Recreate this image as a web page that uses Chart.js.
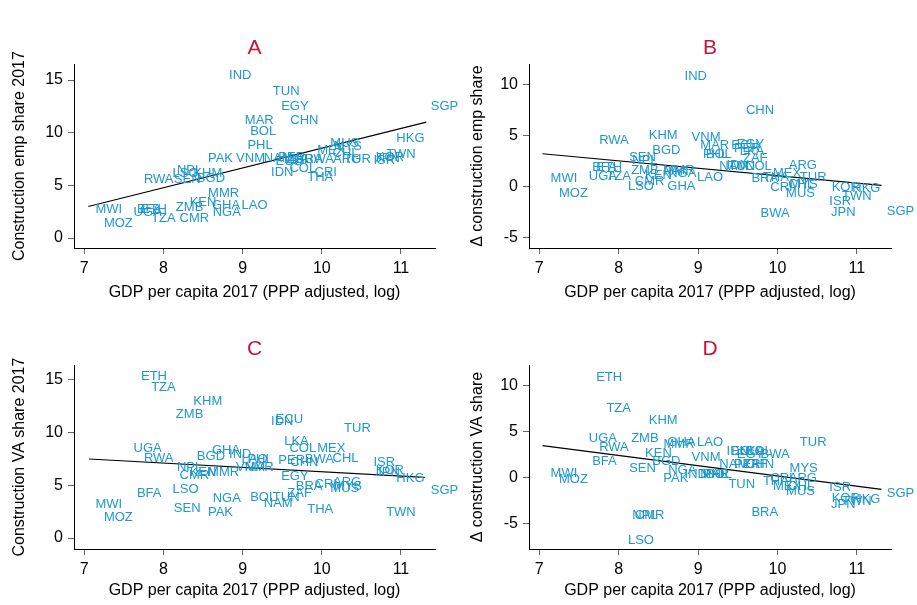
<!DOCTYPE html>
<html>
<head>
<meta charset="utf-8">
<script src="https://cdn.jsdelivr.net/npm/chart.js@4.4.1/dist/chart.umd.min.js"></script>
<style>
    html, body { margin: 0; padding: 0; background: #fff; }
    #wrap { position: relative; width: 917px; height: 605px; overflow: hidden; }
    canvas { position: absolute; }
</style>
</head>
<body>
<div id="wrap">
    <canvas id="chartA" width="458" height="302" style="left:0;top:0"></canvas>
    <canvas id="chartB" width="459" height="302" style="left:458px;top:0"></canvas>
    <canvas id="chartC" width="458" height="305" style="left:0;top:300px"></canvas>
    <canvas id="chartD" width="459" height="305" style="left:458px;top:300px"></canvas>
</div>
<script>
// paesi e PIL pro capite (log, PPP 2017)
const countries = ['MWI','MOZ','BFA','ETH','UGA','RWA','TZA','SEN','NPL','LSO','ZMB','CMR','KEN','KHM','BGD','PAK','MMR',
    'NGA','GHA','IND','LAO','VNM','MAR','PHL','BOL','NAM','IDN','TUN','ECU','PER','EGY','LKA','ZAF','COL','CHN','BRA',
    'BWA','THA','CRI','MEX','ARG','CHL','MYS','MUS','TUR','ISR','JPN','KOR','TWN','HKG','SGP'];
const gdpLog = [7.31,7.43,7.82,7.88,7.80,7.94,8.00,8.30,8.33,8.28,8.33,8.39,8.50,8.56,8.60,8.72,8.76,
    8.80,8.79,8.97,9.15,9.10,9.21,9.22,9.26,9.45,9.50,9.55,9.59,9.62,9.66,9.68,9.72,9.76,9.78,9.84,
    9.97,9.98,10.05,10.12,10.32,10.30,10.33,10.29,10.45,10.79,10.83,10.86,11.00,11.12,11.55];

// A: quota occupazione costruzioni 2017
const empShare = [2.7,1.4,2.7,2.7,2.4,5.6,1.9,5.6,6.4,6.1,2.9,1.9,3.4,6.1,5.7,7.6,4.2,
    2.4,3.1,15.4,3.1,7.6,11.2,8.8,10.1,7.6,6.2,13.9,7.3,7.7,12.5,7.5,7.5,6.6,11.2,7.5,
    7.5,5.8,6.2,8.3,7.5,8.0,8.7,9.0,7.5,7.4,7.6,7.7,7.9,9.5,12.5];
// B: variazione quota occupazione
const empChange = [0.8,-0.7,1.9,1.9,1.0,4.5,1.0,2.8,2.5,0.0,1.6,0.5,1.1,5.0,3.5,1.5,1.6,
    1.3,0.0,10.8,0.9,4.8,4.0,3.1,3.1,2.0,2.1,2.0,4.0,3.7,4.1,3.4,2.7,2.0,7.5,0.8,
    -2.7,0.9,-0.1,1.3,2.1,0.2,0.2,-0.7,0.9,-1.5,-2.6,-0.1,-1.0,-0.2,-2.5];
// C: quota valore aggiunto costruzioni 2017
const vaShare = [3.2,2.0,4.2,15.3,8.5,7.6,14.3,2.8,6.7,4.6,11.7,5.9,6.2,13.0,7.7,2.4,6.2,
    3.8,8.3,7.9,7.5,6.7,6.7,7.5,3.9,3.3,11.1,3.9,11.3,7.4,5.8,9.2,4.2,8.5,7.2,4.9,
    7.5,2.7,5.1,8.5,5.3,7.6,4.9,4.7,10.4,7.2,6.2,6.4,2.4,5.7,4.5];
// D: variazione quota valore aggiunto
const vaChange = [0.4,-0.2,1.7,10.9,4.2,3.3,7.5,1.0,-4.1,-6.8,4.2,-4.1,2.6,6.2,1.7,-0.1,3.6,
    0.8,3.8,0.3,3.8,2.2,0.3,0.3,0.3,1.4,2.8,-0.8,2.8,1.4,2.5,2.8,1.4,2.8,1.4,-3.8,
    2.5,-0.4,-0.1,-1.0,-0.1,-1.0,1.0,-1.5,3.8,-1.1,-2.9,-2.3,-2.6,-2.4,-1.7];

// retta di regressione: estremi [x0, y0, x1, y1]
const fitA = [7.05, 3.0, 11.32, 11.0];
const fitB = [7.04, 3.2, 11.31, 0.1];
const fitC = [7.06, 7.5, 11.30, 5.75];
const fitD = [7.04, 3.46, 11.31, -1.3];

const xTicks = [7, 8, 9, 10, 11];
const xTitle = 'GDP per capita 2017 (PPP adjusted, log)';

const LABEL_COLOR = 'rgb(30, 152, 205)';
const FONT = '"Liberation Sans", Arial, sans-serif';

// plugin per disegnare le etichette dei paesi al posto dei punti
const countryLabels = {
    id: 'countryLabels',
    afterDatasetsDraw(chart) {
        const ctx = chart.ctx;
        const meta = chart.getDatasetMeta(0);
        ctx.save();
        ctx.font = '13px ' + FONT;
        ctx.fillStyle = LABEL_COLOR;
        ctx.textAlign = 'center';
        ctx.textBaseline = 'middle';
        meta.data.forEach((pt, i) => {
            ctx.fillText(countries[i], pt.x, pt.y);
        });
        ctx.restore();
    }
};

function makePanel(canvasId, title, yTitle, values, fit, yMin, yMax, yTicks, box) {
    const canvas = document.getElementById(canvasId);
    const points = values.map((v, i) => ({ x: gdpLog[i], y: v }));

    return new Chart(canvas, {
        type: 'scatter',
        data: {
            datasets: [
                {
                    data: points,
                    pointRadius: 0,
                    pointHoverRadius: 0
                },
                {
                    data: [{ x: fit[0], y: fit[1] }, { x: fit[2], y: fit[3] }],
                    showLine: true,
                    borderColor: '#000',
                    borderWidth: 1.2,
                    pointRadius: 0,
                    fill: false
                }
            ]
        },
        options: {
            responsive: false,
            animation: false,
            devicePixelRatio: 1,
            layout: {
                padding: { left: 0, right: box.right, top: 0, bottom: box.bottom }
            },
            plugins: {
                legend: { display: false },
                tooltip: { enabled: false },
                title: {
                    display: true,
                    text: title,
                    color: '#c8143c',
                    fullSize: false,
                    font: { family: FONT, size: 21, weight: 'normal' },
                    padding: { top: box.titleTop, bottom: 3 }
                }
            },
            scales: {
                x: {
                    type: 'linear',
                    min: 6.87,
                    max: 11.43,
                    afterBuildTicks: s => { s.ticks = xTicks.map(v => ({ value: v })); },
                    afterFit: s => { s.height = box.xHeight; },
                    grid: { drawOnChartArea: false, drawTicks: true, tickLength: 6, color: '#666' },
                    border: { display: true, color: '#000', width: 1 },
                    ticks: { color: '#000', font: { family: FONT, size: 16 }, padding: 5, maxRotation: 0 },
                    title: {
                        display: true,
                        text: xTitle,
                        color: '#000',
                        font: { family: FONT, size: 16 },
                        padding: { top: 0, bottom: 0 }
                    }
                },
                y: {
                    type: 'linear',
                    min: yMin,
                    max: yMax,
                    afterBuildTicks: s => { s.ticks = yTicks.map(v => ({ value: v })); },
                    afterFit: s => { s.width = box.yWidth; },
                    grid: { drawOnChartArea: false, drawTicks: true, tickLength: 6, color: '#666' },
                    border: { display: true, color: '#000', width: 1 },
                    ticks: { color: '#000', font: { family: FONT, size: 16 }, padding: 5 },
                    title: {
                        display: true,
                        text: yTitle,
                        color: '#000',
                        font: { family: FONT, size: 16 },
                        padding: { top: 10, bottom: 0 }
                    }
                }
            }
        },
        plugins: [countryLabels]
    });
}

const topLeft = { right: 23, bottom: 0, titleTop: 36, xHeight: 54, yWidth: 74 };
const topRight = { right: 26, bottom: 0, titleTop: 36, xHeight: 54, yWidth: 71 };
const botLeft = { right: 23, bottom: 5, titleTop: 37, xHeight: 51, yWidth: 74 };
const botRight = { right: 26, bottom: 5, titleTop: 37, xHeight: 51, yWidth: 71 };

makePanel('chartA', 'A', 'Construction emp share 2017', empShare, fitA, -0.94, 16.5, [0, 5, 10, 15], topLeft);
makePanel('chartB', 'B', '\u0394 construction emp share', empChange, fitB, -6.06, 12.0, [-5, 0, 5, 10], topRight);
makePanel('chartC', 'C', 'Construction VA share 2017', vaShare, fitC, -1.04, 16.4, [0, 5, 10, 15], botLeft);
makePanel('chartD', 'D', '\u0394 construction VA share', vaChange, fitD, -7.77, 12.2, [-5, 0, 5, 10], botRight);
</script>
</body>
</html>
